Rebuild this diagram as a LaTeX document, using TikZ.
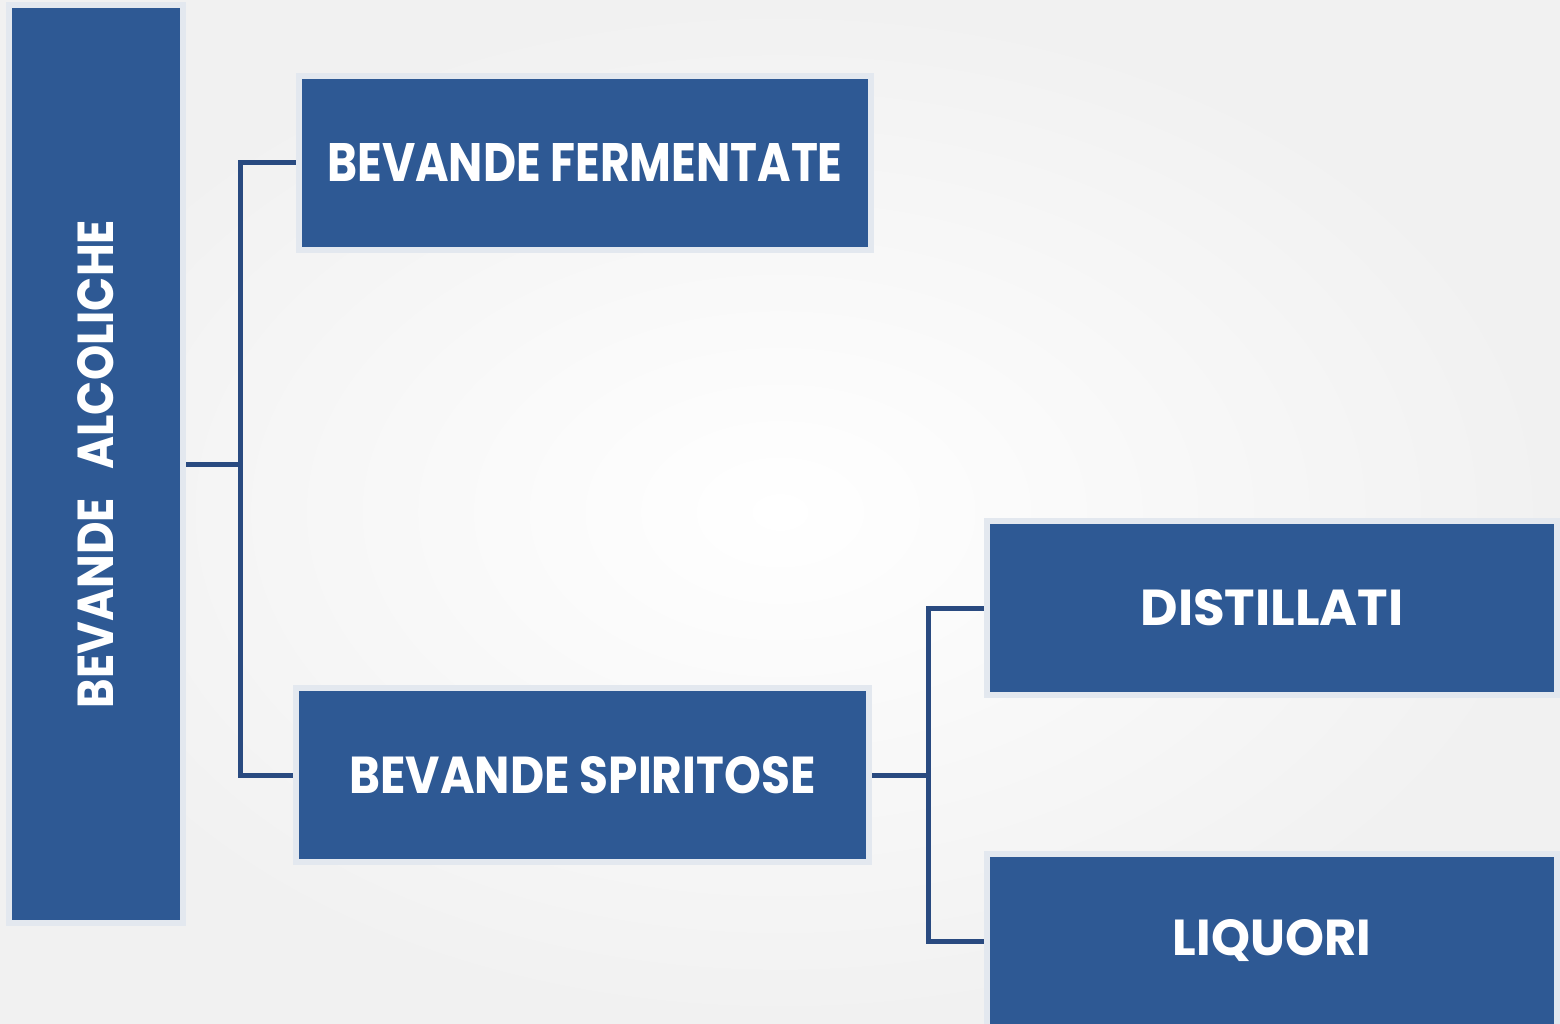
\documentclass[tikz,border=0pt]{standalone}
\usepackage{fontspec}
\setmainfont{Poppins}
\usepackage{graphicx}
\definecolor{boxfill}{RGB}{46,89,148}
\definecolor{boxedge}{RGB}{227,232,239}
\definecolor{linkcol}{RGB}{41,74,128}
\definecolor{bgedge}{RGB}{241,241,241}
\newcommand{\fitlabel}[3]{\resizebox{#1}{#2}{\bfseries #3}}
\begin{document}
\begin{tikzpicture}[x=1pt,y=-1pt,
  box/.style={draw=boxedge, line width=6pt, fill=boxfill, rectangle, inner sep=0pt, text=white},
  link/.style={draw=linkcol, line width=5pt}]
\useasboundingbox (0,0) rectangle (1560,1024);
\shade[inner color=white, middle color=white, outer color=bgedge] (0,0) rectangle (1560,1024);
\clip (0,0) rectangle (1560,1024);
\node[box, minimum width=174pt, minimum height=918pt] (main) at (96,464) {};
\node[text=white, rotate=90] (maintext) at (96,464) {\fitlabel{488pt}{36pt}{BEVANDE\ \ \ ALCOLICHE}};
\node[box, minimum width=572pt, minimum height=174pt] (ferm) at (585,163) {\fitlabel{515pt}{38pt}{BEVANDE FERMENTATE}};
\node[box, minimum width=573pt, minimum height=174pt] (spir) at (582.5,775) {\fitlabel{466pt}{37pt}{BEVANDE SPIRITOSE}};
\node[box, minimum width=570pt, minimum height=174pt] (dist) at (1272,608) {\fitlabel{263pt}{36pt}{DISTILLATI}};
\node[box, minimum width=570pt, minimum height=174pt] (liq) at (1272,941) {\fitlabel{198pt}{36pt}{LIQUORI}};
\coordinate (j1) at ([xshift=54pt]main.east);
\coordinate (j2) at ([xshift=56pt]spir.east);
\draw[link] (main.east) -- (j1);
\draw[link] (j1) |- (ferm.west);
\draw[link] (j1) |- (spir.west);
\draw[link] (spir.east) -- (j2);
\draw[link] (j2) |- (dist.west);
\draw[link] (j2) |- (liq.west);
\end{tikzpicture}
\end{document}
